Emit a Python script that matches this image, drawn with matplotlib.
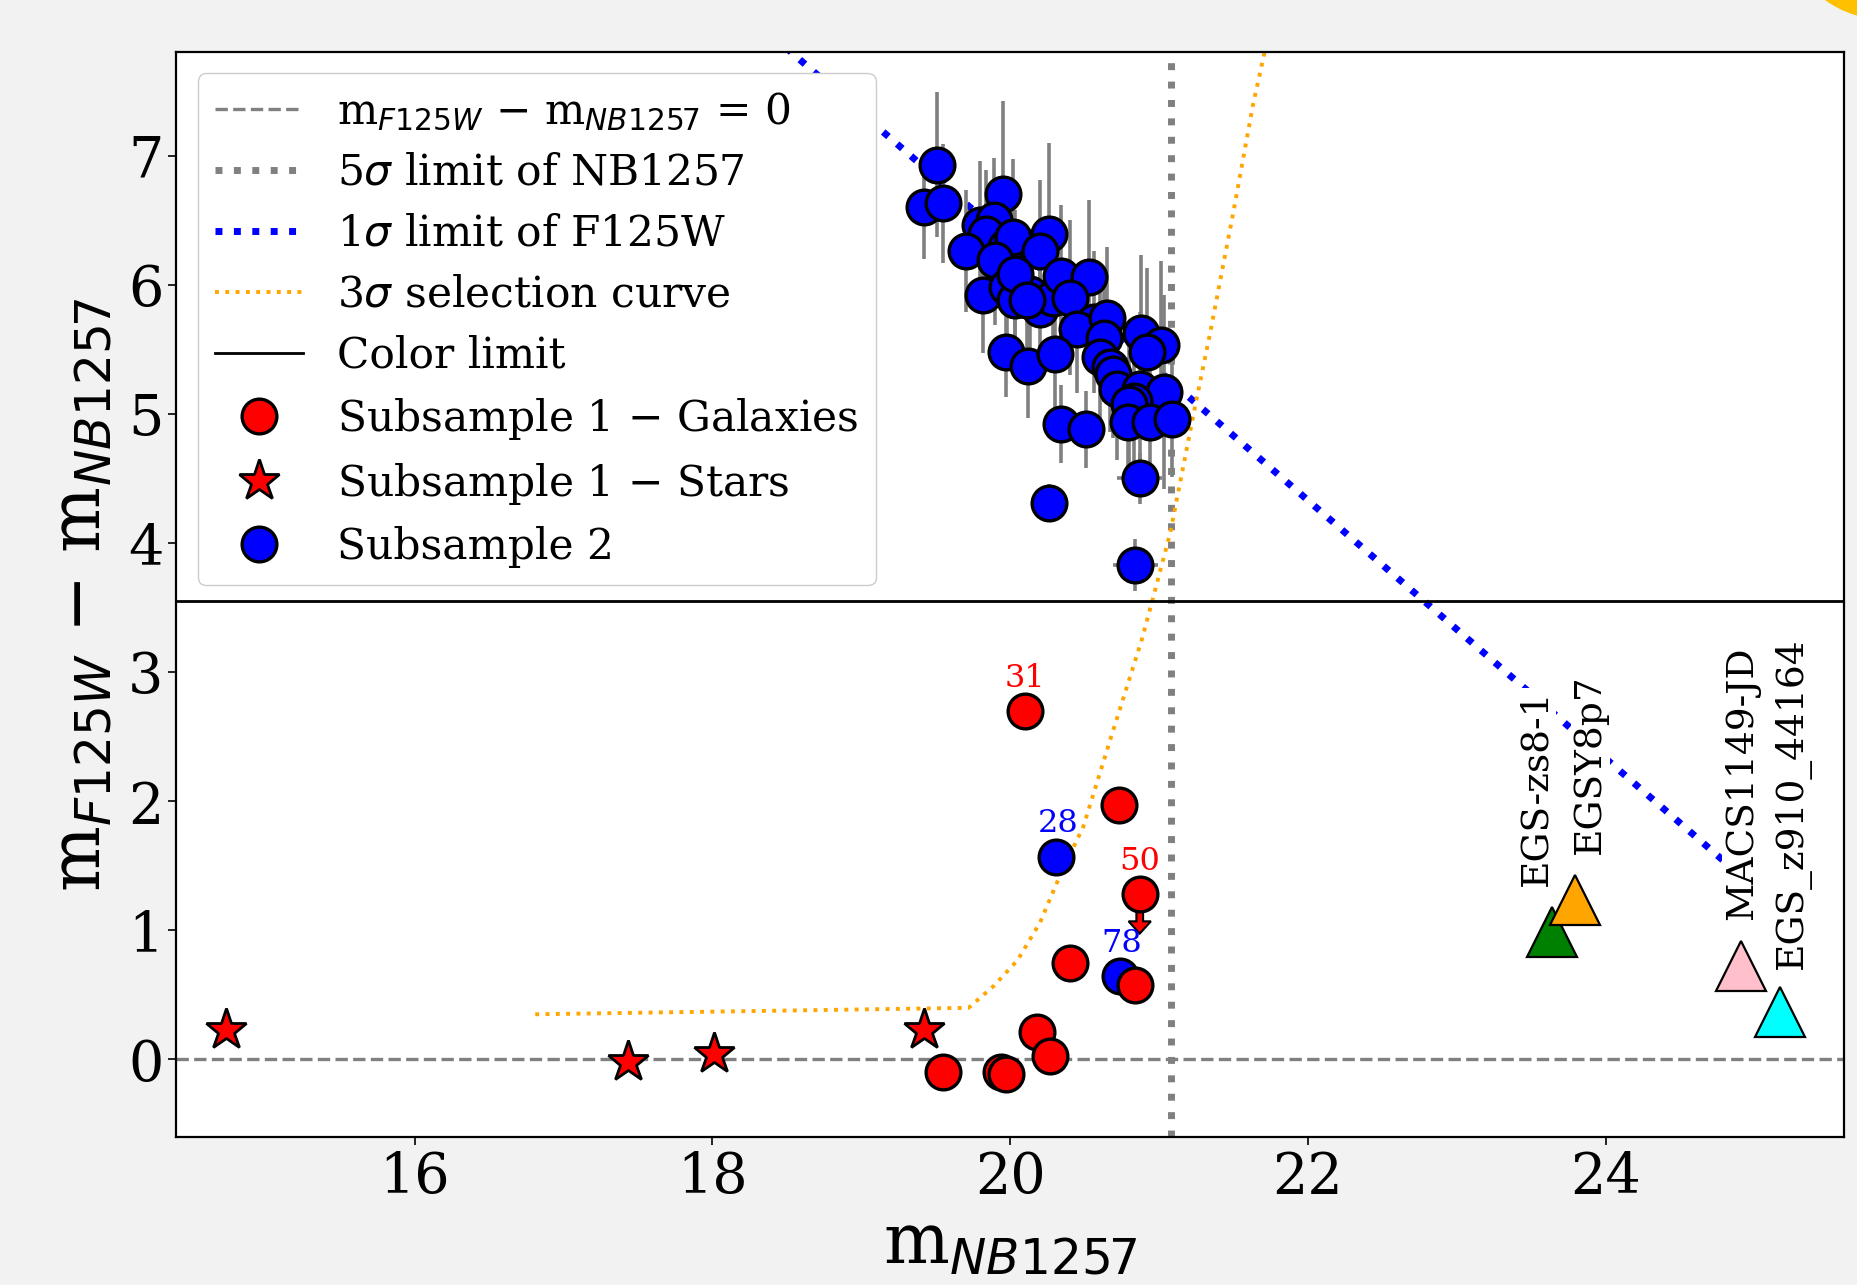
import matplotlib
matplotlib.use("Agg")
import matplotlib.pyplot as plt
from matplotlib.patches import Ellipse

plt.rcParams['font.family'] = ['DejaVu Serif']
plt.rcParams['mathtext.fontset'] = 'dejavusans'

# ---------------- data ----------------
# Subsample 2 (blue) with errors
s2_x = [19.51, 19.42, 19.55, 19.95, 19.80, 19.89, 19.84, 19.70, 19.97, 20.02,
        20.26, 20.20, 19.90, 19.82, 19.98, 20.03, 20.20, 20.13, 20.29, 20.03,
        20.11, 20.34, 20.53, 20.40, 20.56, 20.45, 20.65, 20.63, 20.60, 20.67,
        20.69, 20.88, 21.01, 20.92, 20.72, 20.87, 21.03, 20.83, 20.80, 20.79,
        20.94, 21.09, 19.97, 20.12, 20.30, 20.34, 20.51, 20.87, 20.26, 20.84]
s2_y = [6.93, 6.60, 6.63, 6.70, 6.46, 6.50, 6.39, 6.26, 6.29, 6.37,
        6.39, 6.26, 6.19, 5.92, 5.98, 5.88, 5.81, 5.93, 5.90, 6.08,
        5.88, 6.07, 6.06, 5.90, 5.71, 5.66, 5.74, 5.59, 5.44, 5.36,
        5.31, 5.63, 5.53, 5.48, 5.19, 5.19, 5.17, 5.10, 5.08, 4.94,
        4.94, 4.96, 5.48, 5.37, 5.46, 4.92, 4.88, 4.50, 4.31, 3.83]
s2_yerr = [0.56, 0.40, 0.46, 0.72, 0.50, 0.48, 0.50, 0.47, 0.50, 0.60,
           0.71, 0.55, 0.50, 0.45, 0.45, 0.45, 0.50, 0.50, 0.55, 0.50,
           0.50, 0.55, 0.60, 0.60, 0.55, 0.50, 0.55, 0.50, 0.55, 0.50,
           0.50, 0.60, 0.65, 0.65, 0.55, 0.60, 0.75, 0.50, 0.50, 0.50,
           0.45, 0.45, 0.35, 0.40, 0.45, 0.30, 0.30, 0.20, 0.15, 0.20]
s2_xerr = [0.10] * 47 + [0.15, 0.10, 0.15]

# Subsample 2 objects in the lower region (labelled)
s2b_x = [20.31, 20.74]
s2b_y = [1.57, 0.645]
s2b_lab = ["28", "78"]

# Subsample 1 galaxies
gal_x = [20.10, 20.73, 20.87, 20.40, 20.84, 20.18, 20.27, 19.94, 19.97, 19.55]
gal_y = [2.70, 1.97, 1.28, 0.75, 0.58, 0.21, 0.03, -0.10, -0.11, -0.10]
gal_lab_idx = [0, 2]
gal_lab = ["31", "50"]

# Subsample 1 stars
star_x = [14.73, 17.43, 18.01, 19.42]
star_y = [0.23, -0.02, 0.04, 0.23]

# Literature objects
lit_name = ["EGS-zs8-1", "EGSY8p7", "MACS1149-JD", "EGS_z910_44164"]
lit_x = [23.64, 23.79, 24.91, 25.17]
lit_y = [0.99, 1.235, 0.726, 0.365]
lit_col = ["green", "orange", "pink", "cyan"]
lit_lab_x = [23.536, 23.895, 24.913, 25.25]
lit_lab_y = [1.34, 1.59, 1.08, 0.70]

# Limits
nb_5sig = 21.08
color_limit = 3.55
sig1_x = [18.40, 24.95]
sig1_y = [7.93, 1.38]
sel_x = [16.81, 19.72, 19.89, 20.05, 20.20, 20.34, 20.49, 20.67, 20.885, 20.963,
         21.075, 21.23, 21.345, 21.50, 21.63, 21.71]
sel_y = [0.35, 0.40, 0.57, 0.77, 1.06, 1.44, 1.80, 2.47, 3.256, 3.59,
         4.08, 4.99, 5.64, 6.57, 7.39, 7.81]

# ---------------- figure ----------------
fig = plt.figure(figsize=(18.57, 12.85), dpi=100, facecolor='#f2f2f2')
ax = fig.add_axes([0.095, 0.1152, 0.898, 0.8441])
ax.set_facecolor('white')

# decorative arc in the corner
fig.patches.append(Ellipse((1886.5 / 1857, 1 + 85.5 / 1285), 2 * 104.7 / 1857, 2 * 104.7 / 1285,
                           transform=fig.transFigure, color='#ffc000', zorder=0))

ax.axhline(0, color='grey', ls='--', lw=2.4, zorder=1,
           label=r"m$_{F125W}$ $-$ m$_{NB1257}$ = 0")
ax.axvline(nb_5sig, color='grey', ls=':', lw=5, zorder=1,
           label=r"5$\sigma$ limit of NB1257")
ax.plot(sig1_x, sig1_y, color='blue', ls=':', lw=5, zorder=1,
        label=r"1$\sigma$ limit of F125W")
ax.plot(sel_x, sel_y, color='orange', ls=':', lw=2.8, zorder=1,
        label=r"3$\sigma$ selection curve")
ax.axhline(color_limit, color='black', ls='-', lw=2, zorder=1, label="Color limit")

# Subsample 2
ax.errorbar(s2_x, s2_y, yerr=s2_yerr, xerr=s2_xerr, fmt='none', ecolor='grey',
            elinewidth=2.6, capsize=0, zorder=2)
ax.plot(s2b_x, s2b_y, 'o', color='blue', mec='black', ms=25, mew=2.4, zorder=3)

# upper-limit arrow for object 50
ax.arrow(gal_x[2], gal_y[2], 0, -0.21, width=0.045, head_width=0.15,
         head_length=0.095, length_includes_head=False, fc='red', ec='black',
         lw=1.5, zorder=2.5)

ax.plot(gal_x, gal_y, 'o', color='red', mec='black', ms=25, mew=2.4, zorder=3,
        ls='none', label=r"Subsample 1 $-$ Galaxies")
ax.plot(star_x, star_y, '*', color='red', mec='black', ms=31, mew=2.0, zorder=3,
        ls='none', label=r"Subsample 1 $-$ Stars")
ax.plot(s2_x, s2_y, 'o', color='blue', mec='black', ms=25, mew=2.4, zorder=3,
        ls='none', label="Subsample 2")

for i, lab in zip(gal_lab_idx, gal_lab):
    ax.text(gal_x[i], gal_y[i] + 0.25, lab, color='red', fontsize=23,
            ha='center', va='center', zorder=4)
for xx, yy, lab in zip(s2b_x, s2b_y, s2b_lab):
    ax.text(xx + 0.01, yy + 0.255, lab, color='blue', fontsize=23,
            ha='center', va='center', zorder=4)

for nm, xx, yy, c, lx, ly in zip(lit_name, lit_x, lit_y, lit_col, lit_lab_x, lit_lab_y):
    ax.plot([xx], [yy], '^', color=c, mec='black', ms=36, mew=1.6, zorder=3)
    ax.text(lx, ly, nm, rotation=90, fontsize=27, ha='center', va='bottom',
            zorder=2, bbox=dict(facecolor='white', edgecolor='none', pad=1.0))

ax.set_xlim(14.4, 25.6)
ax.set_ylim(-0.6, 7.8)
ax.set_xticks([16, 18, 20, 22, 24])
ax.set_yticks([0, 1, 2, 3, 4, 5, 6, 7])
ax.tick_params(labelsize=40, length=6, width=1.2)
for sp in ax.spines.values():
    sp.set_linewidth(1.6)

ax.set_xlabel(r"m$_{NB1257}$", fontsize=50)
ax.set_ylabel(r"m$_{F125W}$ $-$ m$_{NB1257}$", fontsize=50, labelpad=10)

ax.legend(loc='upper left', fontsize=30.5, framealpha=1, borderaxespad=0.5,
          handlelength=2.1, labelspacing=0.45)

fig.savefig("out.png", dpi=100, facecolor=fig.get_facecolor())
